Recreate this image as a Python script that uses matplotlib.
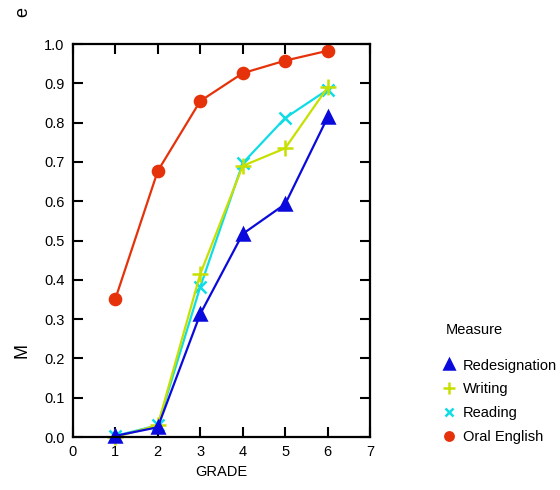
import matplotlib
matplotlib.use("Agg")
import matplotlib.pyplot as plt
from matplotlib.lines import Line2D

plt.rcParams["font.family"] = ["Liberation Sans", "DejaVu Sans"]

grade = [1, 2, 3, 4, 5, 6]
redesignation = [0.003, 0.025, 0.313, 0.517, 0.593, 0.814]
writing = [0.0, 0.03, 0.415, 0.690, 0.735, 0.890]
reading = [0.003, 0.03, 0.382, 0.697, 0.812, 0.884]
oral_english = [0.351, 0.677, 0.855, 0.926, 0.958, 0.983]

series_names = ["Redesignation", "Writing", "Reading", "Oral English"]
palette = {
    "Redesignation": "#0A0ADC",
    "Writing": "#C8E000",
    "Reading": "#10DCE6",
    "Oral English": "#E6320A",
}
markers = {
    "Redesignation": ("^", 9),
    "Writing": ("+", 11),
    "Reading": ("x", 8),
    "Oral English": ("o", 8),
}
values = {
    "Redesignation": redesignation,
    "Writing": writing,
    "Reading": reading,
    "Oral English": oral_english,
}

fig = plt.figure(figsize=(5.6, 4.9), dpi=100)
ax = fig.add_axes([0.130, 0.108, 0.531, 0.802])

# draw in reverse so Redesignation sits on top
for name in ["Oral English", "Reading", "Writing", "Redesignation"]:
    m, ms = markers[name]
    ax.plot(grade, values[name], color=palette[name], lw=1.6,
            marker=m, markersize=ms, markeredgewidth=1.8, clip_on=False)

ax.set_xlim(0, 7)
ax.set_ylim(0, 1.0)
ax.set_xticks(range(0, 8))
ax.set_yticks([i / 10 for i in range(11)])
ax.set_yticklabels([f"{i / 10:.1f}" for i in range(11)])
ax.tick_params(direction="in", length=7.5, width=1.5, top=True, right=True,
               labelsize=10.5, pad=6)
for sp in ax.spines.values():
    sp.set_linewidth(1.6)

ax.set_xlabel("GRADE", fontsize=10.5, labelpad=4)
fig.text(0.040, 0.285, "M", rotation=90, fontsize=13, ha="center", va="center")
fig.text(0.040, 0.975, "e", rotation=90, fontsize=13, ha="center", va="center")

# legend: title placed on its own, entries below with a gap
fig.text(446 / 560, 1 - 330 / 490, "Measure", fontsize=10.5,
         ha="left", va="center")
handles = [
    Line2D([0], [0], color=palette[n], lw=0, marker=markers[n][0],
           markersize=markers[n][1] - 2, markeredgewidth=1.8)
    for n in series_names
]
fig.legend(handles, series_names, loc="upper left",
           bbox_to_anchor=(0.766, 0.295), frameon=False, fontsize=10.5,
           handlelength=0.95, handletextpad=0.5, labelspacing=0.68)

fig.savefig("out.png", dpi=100)
